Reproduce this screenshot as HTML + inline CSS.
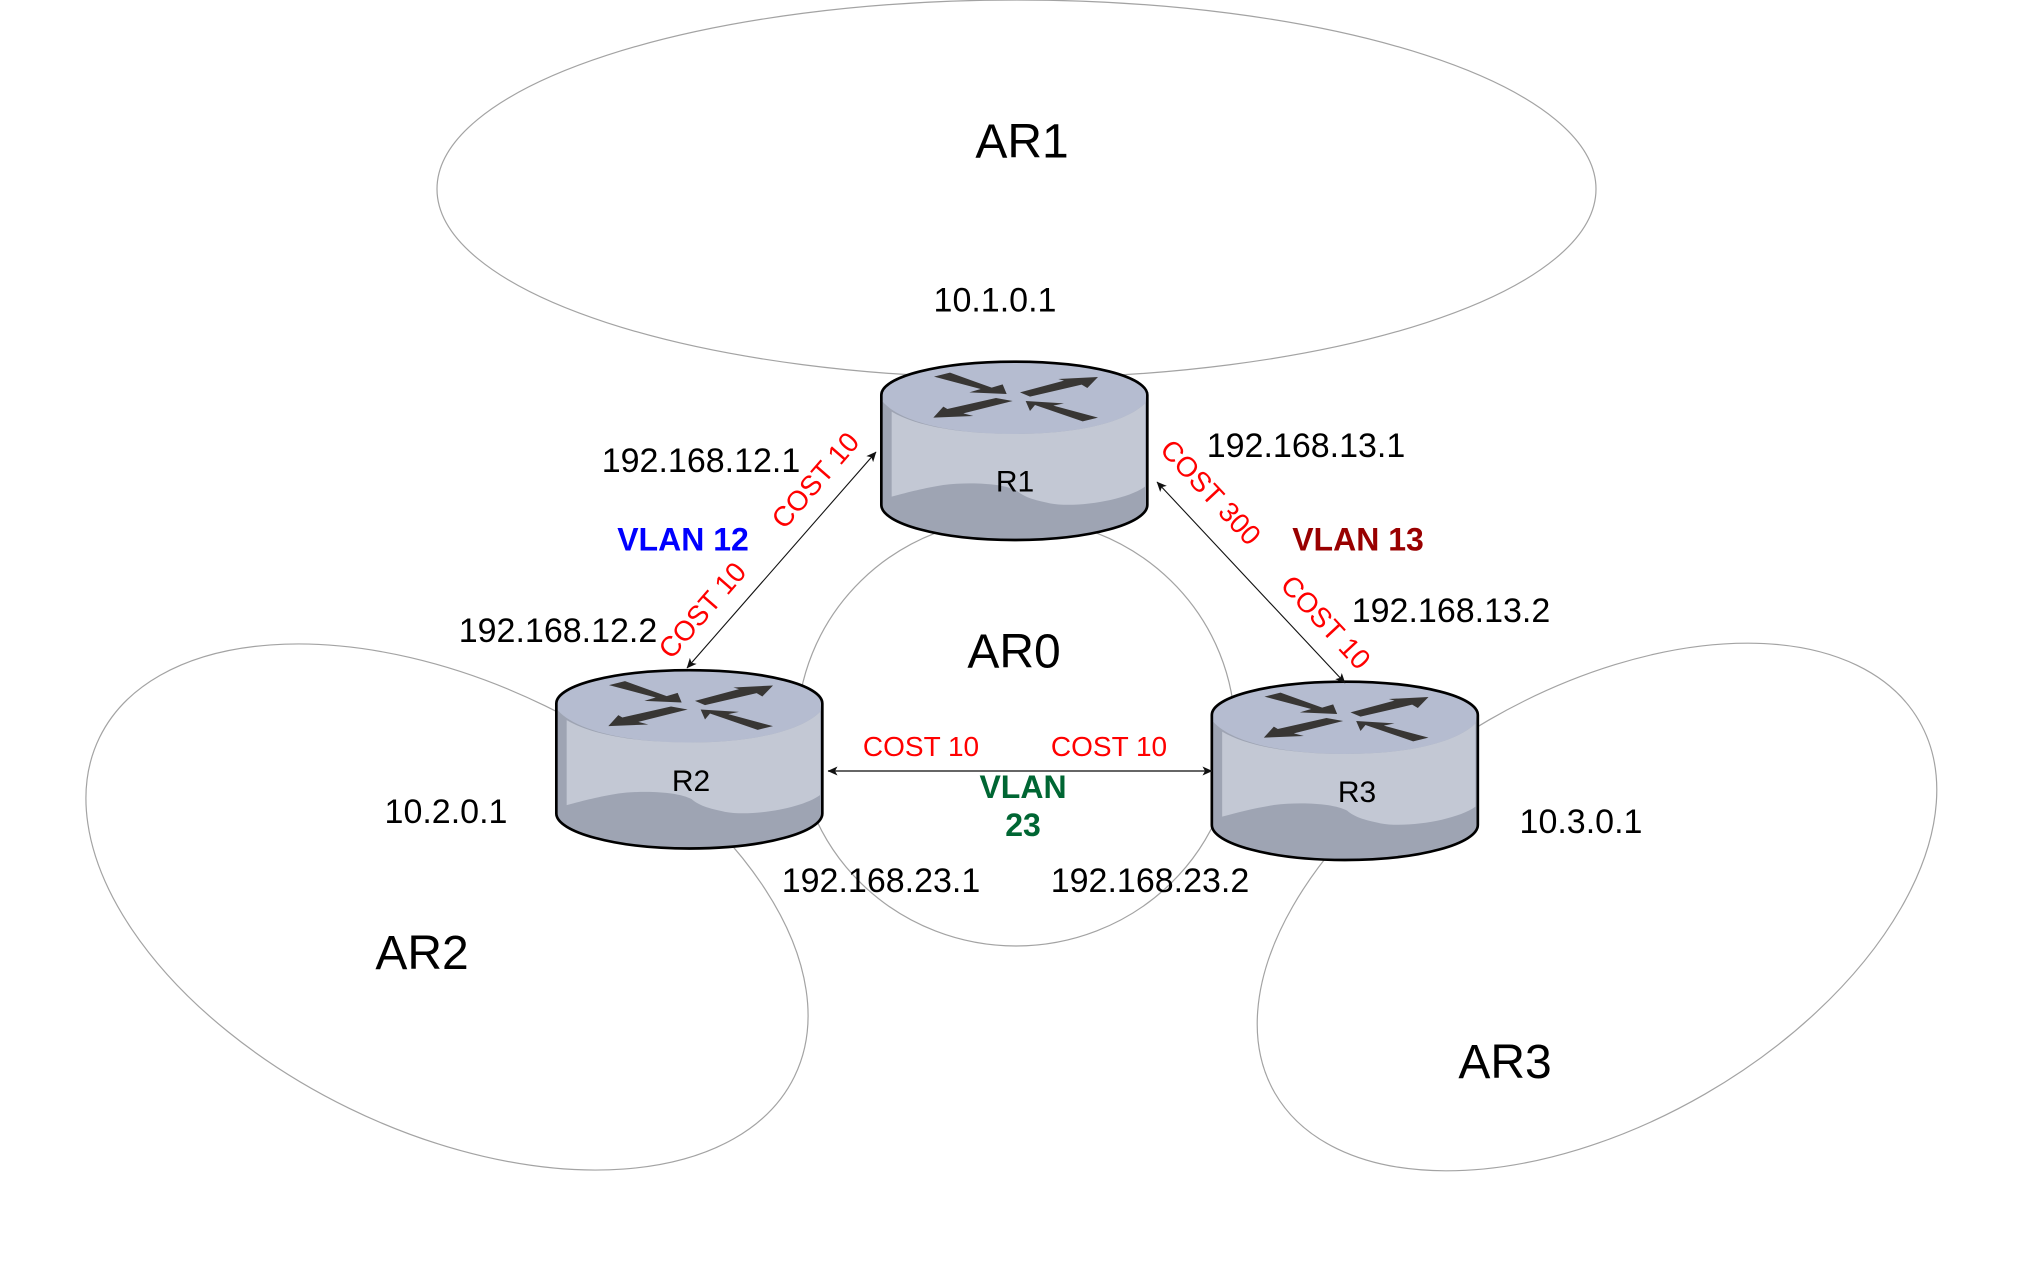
<!DOCTYPE html>
<html><head><meta charset="utf-8"><style>html,body{margin:0;padding:0;background:#fff}svg{display:block}text{font-family:"Liberation Sans",sans-serif}</style></head><body>
<svg xmlns="http://www.w3.org/2000/svg" width="2028" height="1283" viewBox="0 0 2028 1283">
<defs>
<marker id="a" viewBox="0 0 10 10" refX="9.5" refY="5" markerWidth="10" markerHeight="10" markerUnits="userSpaceOnUse" orient="auto-start-reverse"><path d="M0,0.5 L10,5 L0,9.5 L2.5,5 Z" fill="#111"/></marker>
<g id="r">
<path d="M64,165 C64,110 240,65 463,65 C690,65 862,110 862,165 L862,495 C862,550 690,600 463,600 C240,600 64,550 64,495 Z" fill="#9ea4b3"/>
<path d="M68,165 C68,110 240,65 463,65 C690,65 858,110 858,165 C858,170 856,185 855,190 C800,245 660,282 463,282 C270,282 120,245 68,185 Z" fill="#b5bcd0"/>
<path d="M95,215 C170,260 310,282 463,282 C660,282 800,245 855,190 L855,440 C800,480 650,505 570,490 C520,480 490,470 470,452 C430,430 330,425 250,435 C190,445 150,455 95,470 Z" fill="#c3c8d4"/>
<path d="M222,110 L270,98 L395,143 L428,133 L440,162 L328,157 L362,147 Z M480,157 L612,122 L595,117 L714,111 L682,144 L665,134 L510,170 Z M458,183 L408,174 L262,207 L250,200 L220,233 L340,228 L310,220 Z M497,183 L612,190 L580,197 L714,233 L668,244 L525,195 L510,213 Z" fill="#383634"/>
<path d="M64,165 C64,110 240,65 463,65 C690,65 862,110 862,165 L862,495 C862,550 690,600 463,600 C240,600 64,550 64,495 Z" fill="none" stroke="#000" stroke-width="8"/>
</g>
</defs>
<rect width="2028" height="1283" fill="#fff"/>
<g fill="none" stroke="#a3a3a3" stroke-width="1.2">
<ellipse cx="1016.5" cy="189" rx="579.5" ry="189"/>
<ellipse cx="1016" cy="732" rx="219" ry="214"/>
<ellipse cx="447" cy="907" rx="386.6" ry="223.8" transform="rotate(26 447 907)"/>
<ellipse cx="1597" cy="907" rx="372" ry="216" transform="rotate(-30 1597 907)"/>
</g>
<use href="#r" transform="translate(860 340) scale(.33333)"/>
<use href="#r" transform="translate(535 648.5) scale(.33333)"/>
<use href="#r" transform="translate(1190.5 660) scale(.33333)"/>
<g stroke="#111" stroke-width="1.1" fill="none">
<line x1="876" y1="452" x2="687" y2="668" marker-start="url(#a)" marker-end="url(#a)"/>
<line x1="1157" y1="482" x2="1345" y2="683" marker-start="url(#a)" marker-end="url(#a)"/>
<line x1="828" y1="771" x2="1212" y2="771" stroke="#333" stroke-width="1.5" marker-start="url(#a)" marker-end="url(#a)"/>
</g>
<g font-size="34" fill="#000" text-anchor="middle">
<text x="995" y="311.5">10.1.0.1</text>
<text x="446" y="823">10.2.0.1</text>
<text x="1581" y="833">10.3.0.1</text>
<text x="701" y="472">192.168.12.1</text>
<text x="558" y="642">192.168.12.2</text>
<text x="1306" y="457">192.168.13.1</text>
<text x="1451" y="622">192.168.13.2</text>
<text x="881" y="892">192.168.23.1</text>
<text x="1150" y="892">192.168.23.2</text>
</g>
<g font-size="48" fill="#000" text-anchor="middle">
<text x="1022" y="157.5">AR1</text>
<text x="1014" y="667.5">AR0</text>
<text x="422" y="969">AR2</text>
<text x="1505" y="1078">AR3</text>
</g>
<g font-size="30" fill="#000" text-anchor="middle">
<text x="1015" y="491.5">R1</text>
<text x="691" y="791">R2</text>
<text x="1357" y="802">R3</text>
</g>
<g font-size="28" fill="#ff0000" text-anchor="middle">
<text x="921" y="756">COST 10</text>
<text x="1109" y="756">COST 10</text>
<text transform="translate(815 480) rotate(-49)" y="10">COST 10</text>
<text transform="translate(702 610) rotate(-49)" y="10">COST 10</text>
<text transform="translate(1211 492) rotate(47)" y="10">COST 300</text>
<text transform="translate(1326 622) rotate(47)" y="10">COST 10</text>
</g>
<g font-size="32" font-weight="bold" text-anchor="middle">
<text x="683" y="550.5" fill="#0000ff">VLAN 12</text>
<text x="1358" y="550.5" fill="#990000">VLAN 13</text>
<text x="1023" y="798" fill="#006633">VLAN</text>
<text x="1023" y="836" fill="#006633">23</text>
</g>
</svg>
</body></html>
